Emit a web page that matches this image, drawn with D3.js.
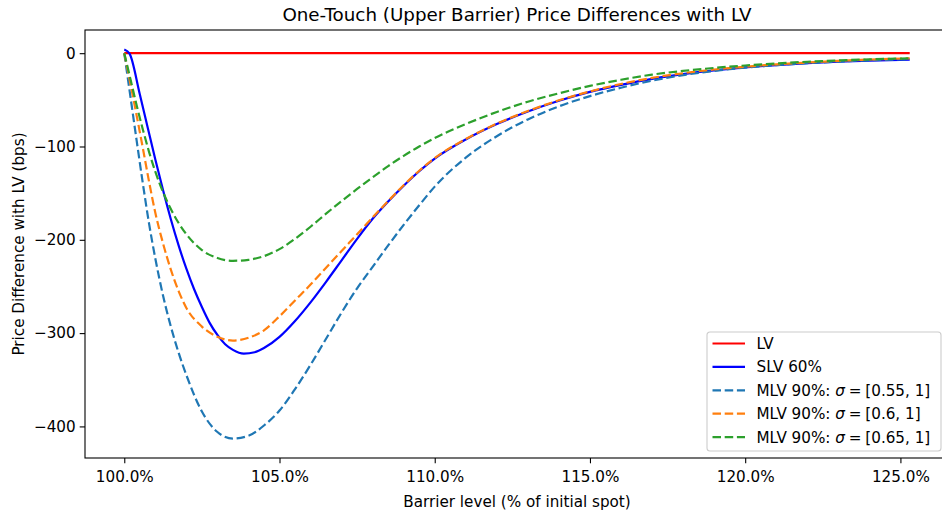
<!DOCTYPE html>
<html>
<head>
<meta charset="utf-8">
<script src="https://cdn.jsdelivr.net/npm/d3@7"></script>
<style>
  html, body { margin: 0; padding: 0; background: #fff; }
  svg { display: block; font-family: "DejaVu Sans", sans-serif; }
</style>
</head>
<body>
<svg id="chart" width="942" height="511"></svg>
<script>
// Barrier level (% of initial spot) and price differences vs LV (bps)
const barrier = [100, 100.2, 100.4, 100.6, 100.8, 101, 101.25, 101.5, 101.75, 102,
  102.5, 103, 103.5, 104, 104.5, 105, 105.5, 106, 106.5, 107, 107.5, 108, 108.5, 109, 109.5, 110,
  111, 112, 113, 114, 115, 116, 117, 118, 119, 120, 121, 122, 123, 124, 125.3];

const lv = barrier.map(() => 0);

const mlv055 = [0, -47, -94, -140, -183, -220, -260, -293, -321, -345,
  -384, -406, -413, -410, -399, -383, -360, -334, -306, -278, -252, -229, -206, -184, -163, -143,
  -112, -89, -71, -57, -46, -37, -29.5, -23.5, -19, -15.5, -12.8, -10.7, -9, -7.6, -6.5];

const mlv060 = [0, -33, -67, -102, -138, -171, -204, -232, -255, -273,
  -293, -304, -308, -305, -297, -282, -265, -248, -230, -212, -194, -176, -158.5, -141.5, -126, -112.5,
  -92, -75.5, -62, -50.5, -41, -33, -26.5, -21.5, -17.5, -14.5, -12, -10, -8.3, -6.8, -5.5];

const mlv065 = [0, -28, -56, -82, -106, -127, -149, -167, -182, -194,
  -211, -219.5, -222.5, -221.5, -217.5, -210, -199, -186, -172, -158.5, -145.5, -133, -121, -110, -100, -91,
  -76, -63, -52, -43, -35, -28.5, -23, -19, -15.8, -13.2, -11, -9.2, -7.8, -6.6, -5.5];

const slvBarrier = [100, 100.17, 100.5, 100.75, 101, 101.25, 101.5, 101.75, 102, 102.25, 102.5, 102.75,
  103, 103.25, 103.5, 103.85, 104.2, 104.5, 105, 105.5, 106, 106.5, 107, 107.5, 108, 108.5, 109, 109.5, 110,
  111, 112, 113, 114, 115, 116, 117, 118, 119, 120, 121, 122, 123, 124, 125.3];
const slv60 = [4, -0.5, -44, -79, -114, -147, -178, -206, -231, -253, -272, -289,
  -302, -312, -318, -322, -320.5, -316, -304, -287, -267, -245, -222, -199, -177.5, -159, -142, -126.5, -113,
  -92.5, -76, -62.5, -51, -41.5, -34, -27.5, -22.5, -18.5, -15.3, -12.8, -10.8, -9.2, -8, -7];

const seriesNames = ["LV", "SLV 60%", "MLV 90%: ", "MLV 90%: ", "MLV 90%: "];
const sigmaRanges = [null, null, "[0.55, 1]", "[0.6, 1]", "[0.65, 1]"];
const xTicks = [100, 105, 110, 115, 120, 125];
const yTicks = [0, -100, -200, -300, -400];

const series = [
  { name: seriesNames[0], sigma: sigmaRanges[0], xs: barrier, ys: lv, color: "#ff0000", dash: null },
  { name: seriesNames[1], sigma: sigmaRanges[1], xs: slvBarrier, ys: slv60, color: "#0000ff", dash: null },
  { name: seriesNames[2], sigma: sigmaRanges[2], xs: barrier, ys: mlv055, color: "#1f77b4", dash: "8.5,3.7" },
  { name: seriesNames[3], sigma: sigmaRanges[3], xs: barrier, ys: mlv060, color: "#ff7f0e", dash: "8.5,3.7" },
  { name: seriesNames[4], sigma: sigmaRanges[4], xs: barrier, ys: mlv065, color: "#2ca02c", dash: "8.5,3.7" }
];

const svg = d3.select("#chart");
const plot = { left: 85, right: 949, top: 30, bottom: 458 };

// axis limits padded by 5% of the data range on each side
const allX = series.flatMap(s => s.xs);
const allY = series.flatMap(s => s.ys);
const [x0, x1] = d3.extent(allX);
const [y0, y1] = d3.extent(allY);
const px = (x1 - x0) * 0.05, py = (y1 - y0) * 0.05;

const x = d3.scaleLinear().domain([x0 - px, x1 + px]).range([plot.left, plot.right]);
const y = d3.scaleLinear().domain([y0 - py, y1 + py]).range([plot.bottom, plot.top]);

const fmtX = d => d.toFixed(1) + "%";
const fmtY = d => (d < 0 ? "\u2212" + Math.abs(d) : String(d));

// clip curves to the axes box
svg.append("defs").append("clipPath").attr("id", "clip")
  .append("rect").attr("x", plot.left).attr("y", plot.top)
  .attr("width", plot.right - plot.left).attr("height", plot.bottom - plot.top);

const line = d3.line().curve(d3.curveMonotoneX);

const lines = svg.append("g").attr("clip-path", "url(#clip)");
series.forEach(s => {
  lines.append("path")
    .attr("d", line(s.xs.map((v, i) => [x(v), y(s.ys[i])])))
    .attr("fill", "none")
    .attr("stroke", s.color)
    .attr("stroke-width", 2.2)
    .attr("stroke-dasharray", s.dash)
    .attr("stroke-linejoin", "round");
});

// axes
const xAxis = d3.axisBottom(x).tickValues(xTicks).tickFormat(fmtX).tickSize(5.3).tickPadding(4);
const yAxis = d3.axisLeft(y).tickValues(yTicks).tickFormat(fmtY).tickSize(5.3).tickPadding(4);

const gx = svg.append("g").attr("transform", `translate(0,${plot.bottom})`).call(xAxis);
const gy = svg.append("g").attr("transform", `translate(${plot.left},0)`).call(yAxis);
[gx, gy].forEach(g => {
  g.select(".domain").remove();
  g.selectAll(".tick line").attr("stroke", "#000").attr("stroke-width", 1.1);
  g.selectAll(".tick text").attr("fill", "#000").style("font-size", "15.2px").style("font-family", "DejaVu Sans");
});
gx.selectAll(".tick text").attr("dy", "0.95em");

// frame
svg.append("rect")
  .attr("x", plot.left).attr("y", plot.top)
  .attr("width", plot.right - plot.left).attr("height", plot.bottom - plot.top)
  .attr("fill", "none").attr("stroke", "#000").attr("stroke-width", 1.1);

// titles
svg.append("text")
  .attr("x", (plot.left + plot.right) / 2).attr("y", 21)
  .attr("text-anchor", "middle").style("font-size", "18.3px")
  .text("One-Touch (Upper Barrier) Price Differences with LV");

svg.append("text")
  .attr("x", (plot.left + plot.right) / 2).attr("y", 507)
  .attr("text-anchor", "middle").style("font-size", "15.2px")
  .text("Barrier level (% of initial spot)");

svg.append("text")
  .attr("transform", `translate(24,${(plot.top + plot.bottom) / 2}) rotate(-90)`)
  .attr("text-anchor", "middle").style("font-size", "15.2px")
  .text("Price Difference with LV (bps)");

// legend
const leg = svg.append("g").attr("transform", "translate(707,332)");
leg.append("rect")
  .attr("width", 234).attr("height", 119).attr("rx", 3)
  .attr("fill", "#fff").attr("fill-opacity", 0.8)
  .attr("stroke", "#cccccc").attr("stroke-width", 1.1);

series.forEach((s, i) => {
  const cy = 11.5 + i * 23.4;
  leg.append("line")
    .attr("x1", 5.5).attr("x2", 38).attr("y1", cy).attr("y2", cy)
    .attr("stroke", s.color).attr("stroke-width", 2.2)
    .attr("stroke-dasharray", s.dash);
  const t = leg.append("text")
    .attr("x", 49.5).attr("y", cy + 5.4)
    .style("font-size", "15.2px");
  t.append("tspan").text(s.name);
  if (s.sigma) {
    t.append("tspan").style("font-style", "italic").text("\u03c3");
    t.append("tspan").text("\u2005=\u2005" + s.sigma);
  }
});
</script>
</body>
</html>
